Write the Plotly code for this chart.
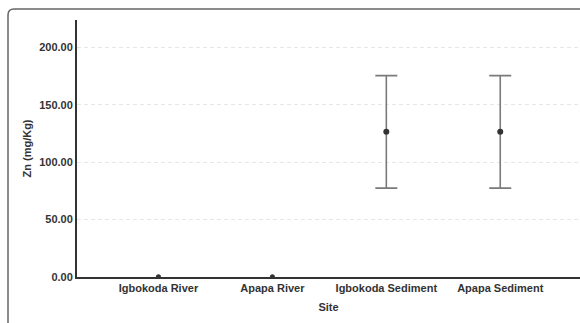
import plotly.graph_objects as go

# Mean Zn concentration per site with error bars
sites = ["Igbokoda River", "Apapa River", "Igbokoda Sediment", "Apapa Sediment"]
zn_mean = [0.3, 0.3, 126.5, 126.5]
zn_err = [0.0, 0.0, 49.0, 49.0]
y_ticks = [0, 50, 100, 150, 200]
y_tick_text = ["0.00", "50.00", "100.00", "150.00", "200.00"]

font_family = "Liberation Sans, Arial, sans-serif"

fig = go.Figure()
for i, site in enumerate(sites):
    has_err = zn_err[i] > 0
    fig.add_trace(go.Scatter(
        x=[i],
        y=[zn_mean[i]],
        mode="markers",
        marker=dict(color="#333333", size=6 if has_err else 5),
        error_y=dict(type="data", array=[zn_err[i]], visible=has_err,
                     color="#7a7a7a", thickness=1.6, width=11),
        showlegend=False,
        name=site,
        cliponaxis=True,
    ))

fig.update_layout(
    width=580, height=323,
    margin=dict(l=77, r=0, t=20, b=46),
    paper_bgcolor="white",
    plot_bgcolor="white",
    font=dict(family=font_family, color="#333333", size=11),
    xaxis=dict(
        range=[-0.715, 3.70],
        tickmode="array",
        tickvals=list(range(len(sites))),
        ticktext=[f"<b>{s}</b>" for s in sites],
        showgrid=False,
        zeroline=False,
        showline=True, linecolor="#333333", linewidth=2,
        ticks="",
        title=dict(text="<b>Site</b>", standoff=10, font=dict(size=11)),
    ),
    yaxis=dict(
        range=[0, 224],
        tickmode="array",
        tickvals=y_ticks,
        ticktext=[f"<b>{t}</b>" for t in y_tick_text],
        showgrid=True, gridcolor="#e6e6e6", griddash="4px,3px", gridwidth=1,
        zeroline=False,
        showline=True, linecolor="#333333", linewidth=2,
        ticks="", ticklen=0,
        title=dict(text="<b>Zn (mg/Kg)</b>", standoff=5, font=dict(size=11)),
    ),
    shapes=[
        # outer rounded frame around the chart panel
        dict(
            type="path",
            xref="paper", yref="paper",
            xsizemode="pixel", ysizemode="pixel",
            xanchor=0, yanchor=1,
            path="M -69,-330 L -69,5 Q -69,11 -63,11 L 530,11",
            line=dict(color="#666666", width=1.5),
            layer="above",
        )
    ],
)

fig.write_html("out.html")
